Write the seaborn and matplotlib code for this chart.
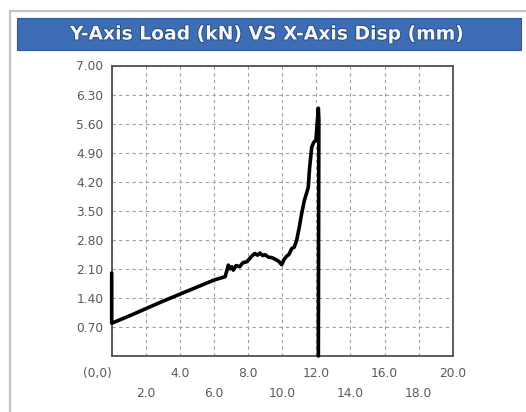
import matplotlib
matplotlib.use("Agg")
import matplotlib.pyplot as plt
import matplotlib.patheffects as pe
from matplotlib.patches import Rectangle
import seaborn as sns
import pandas as pd

# ---- data ----
disp_mm = [0.0, 0.0, 1.0, 2.0, 3.0, 4.0, 5.0, 6.0, 6.65, 6.75, 6.84, 6.95, 7.05, 7.13,
           7.3, 7.5, 7.7, 7.92, 8.1, 8.25, 8.4, 8.55, 8.7, 8.85, 9.0, 9.2, 9.4,
           9.6, 9.8, 9.97, 10.1, 10.25, 10.4, 10.56, 10.7, 10.85, 11.0, 11.14,
           11.3, 11.45, 11.53, 11.6, 11.73, 11.85, 11.98, 12.05, 12.12, 12.15, 12.12]
load_kn = [2.0, 0.79, 0.96, 1.14, 1.32, 1.49, 1.66, 1.83, 1.91, 2.05, 2.19, 2.10, 2.15, 2.07,
           2.18, 2.15, 2.25, 2.27, 2.35, 2.42, 2.47, 2.43, 2.48, 2.42, 2.44, 2.38, 2.37,
           2.33, 2.28, 2.20, 2.32, 2.40, 2.45, 2.59, 2.62, 2.79, 3.10, 3.43,
           3.75, 3.95, 4.07, 4.50, 5.03, 5.15, 5.20, 5.60, 5.97, 5.70, 0.0]

y_ticks = [0.70, 1.40, 2.10, 2.80, 3.50, 4.20, 4.90, 5.60, 6.30, 7.00]
y_labels = ["0.70", "1.40", "2.10", "2.80", "3.50", "4.20", "4.90", "5.60", "6.30", "7.00"]
x_major = [0, 4, 8, 12, 16, 20]
x_major_labels = ["(0,0)", "4.0", "8.0", "12.0", "16.0", "20.0"]
x_minor = [2, 6, 10, 14, 18]
x_minor_labels = ["2.0", "6.0", "10.0", "14.0", "18.0"]
title = "Y-Axis Load (kN) VS X-Axis Disp (mm)"

df = pd.DataFrame({"disp": disp_mm, "load": load_kn})

sns.set_style("white")
plt.rcParams["font.family"] = ["DejaVu Sans"]

W, H = 526, 412
fig = plt.figure(figsize=(W / 100, H / 100), dpi=100)
fig.patch.set_facecolor("white")

# outer grey frame
fig.add_artist(Rectangle((10 / W, -0.05), 1.1, (H - 11) / H + 0.05,
                         transform=fig.transFigure, fill=False,
                         edgecolor="#c4c4c4", linewidth=1.6))
# title bar
fig.add_artist(Rectangle((17 / W, 1 - 50 / H), 504 / W, 32 / H,
                         transform=fig.transFigure, facecolor="#3d6db5",
                         edgecolor="#2f5a9a", linewidth=0.8))
fig.text(267 / W, 1 - 34 / H, title, ha="center", va="center", color="#f4f7fc",
         fontsize=13.5, fontweight="bold",
         path_effects=[pe.withStroke(linewidth=1.2, foreground="#24457a")])

ax = fig.add_axes([111.7 / W, 1 - 356 / H, 341 / W, 290.5 / H])
ax.set_facecolor("white")

sns.lineplot(data=df, x="disp", y="load", sort=False, estimator=None,
             color="black", linewidth=2.6, ax=ax)
for ln in ax.lines:
    ln.set_clip_on(False)
    ln.set_zorder(5)

ax.set_xlim(0, 20)
ax.set_ylim(0, 7)
ax.set_xlabel("")
ax.set_ylabel("")

ax.set_yticks(y_ticks, y_labels)
ax.set_xticks(x_major, x_major_labels)
ax.set_xticks(x_minor, x_minor_labels, minor=True)

ax.tick_params(axis="both", which="both", length=0, colors="#5a5a5a", labelsize=8.8)
ax.tick_params(axis="y", pad=6)
ax.tick_params(axis="x", which="major", pad=8)
ax.tick_params(axis="x", which="minor", pad=22)
ax.get_xticklabels()[0].set_ha("right")

grid_kw = dict(color="#a0a0a0", linewidth=0.8, linestyle=(0, (3, 3)))
ax.grid(True, axis="y", which="major", **grid_kw)
ax.grid(True, axis="x", which="both", **grid_kw)
ax.set_axisbelow(True)

for s in ax.spines.values():
    s.set_visible(True)
    s.set_color("#505050")
    s.set_linewidth(1.3)
    s.set_zorder(4)

fig.savefig("out.png", dpi=100)
